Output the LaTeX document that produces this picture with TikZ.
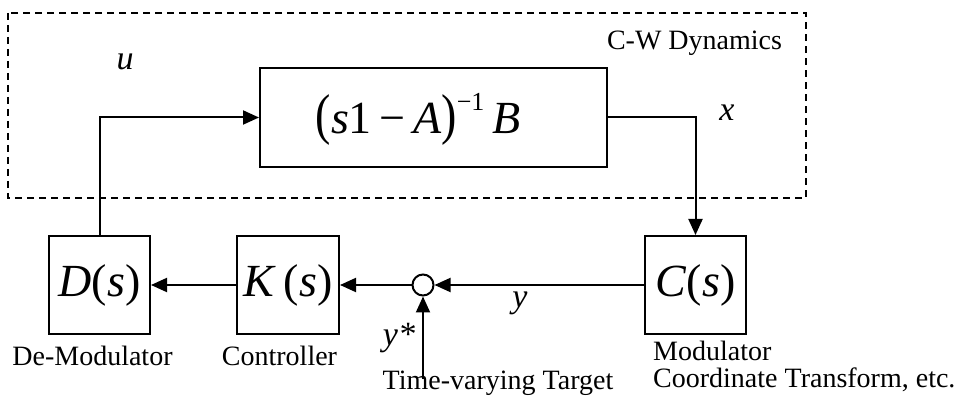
\documentclass[tikz,border=0pt]{standalone}
\usepackage{fontspec}
\setmainfont{Liberation Serif}
\usepackage{tikz}
\usetikzlibrary{arrows.meta}
\newcommand{\mv}[1]{\textit{#1}}
\newcommand{\bigpar}[1]{\scalebox{1}[1.22]{#1}}

\tikzset{
  blk/.style={draw, line width=2pt, minimum width=101pt, minimum height=98pt, inner sep=0pt},
  sig/.style={line width=2pt, -{Triangle[length=16pt,width=14pt]}},
  txt/.style={font=\fontsize{28}{30}\selectfont, inner sep=0pt},
  mth/.style={font=\fontsize{46}{48}\selectfont},
  var/.style={font=\fontsize{34}{36}\selectfont\itshape, inner sep=0pt}
}

\begin{document}
\begin{tikzpicture}[x=1pt,y=-1pt]
\useasboundingbox (0,0) rectangle (956,403);
% C-W dynamics region
\draw[line width=2pt, dash pattern=on 7pt off 5pt] (8,13) rectangle (806,198);
\node[txt, anchor=base] (cwlab) at (694.5,50) {C-W Dynamics};
\node[blk, minimum width=347pt, minimum height=99pt] (plant) at (433.5,117.5) {};
\node[mth] (plantlab) at (418,119) {\bigpar{(}\mv{s}1\,−\,\mv{A}\bigpar{)}\raisebox{0.5em}{\fontsize{26}{26}\selectfont −1}\,\mv{B}};
% loop blocks
\node[blk] (D) at (99.5,285) {};
\node[mth] at (D) {\mv{D}(\mv{s})};
\node[blk, minimum width=102pt] (K) at (288,285) {};
\node[mth] at (K) {\mv{K}\,(\mv{s})};
\node[blk] (C) at (695.5,285) {};
\node[mth] at (C) {\mv{C}(\mv{s})};
\node[circle, draw, line width=2pt, minimum size=21pt, inner sep=0pt] (sum) at (423,285) {};
\coordinate (tgt) at (423,379);
% signals
\draw[sig] (D.north) -- (D.north |- plant.west) -- (plant.west);
\draw[sig] (plant.east) -- (C.north |- plant.east) -- (C.north);
\draw[sig] (C.west) -- (sum.east);
\draw[sig] (sum.west) -- (K.east);
\draw[sig] (K.west) -- (D.east);
\draw[sig] (tgt) -- (sum.south);
\node[var] (ulab) at (125,62) {u};
\node[var] (xlab) at (727,113) {x};
\node[var] (ylab) at (520,303) {y};
\node[var] (yslab) at (399,338) {y*};
% captions
\node[txt, anchor=base] (demod) at (92.5,365) {De-Modulator};
\node[txt, anchor=base] (ctrl) at (279.5,365) {Controller};
\node[txt, anchor=base west] (mod) at (653,360) {Modulator};
\node[txt, anchor=base west] (coord) at (653,388) {Coordinate Transform, etc.};
\node[txt, anchor=base] (target) at (498,389) {Time-varying Target};
\end{tikzpicture}
\end{document}
